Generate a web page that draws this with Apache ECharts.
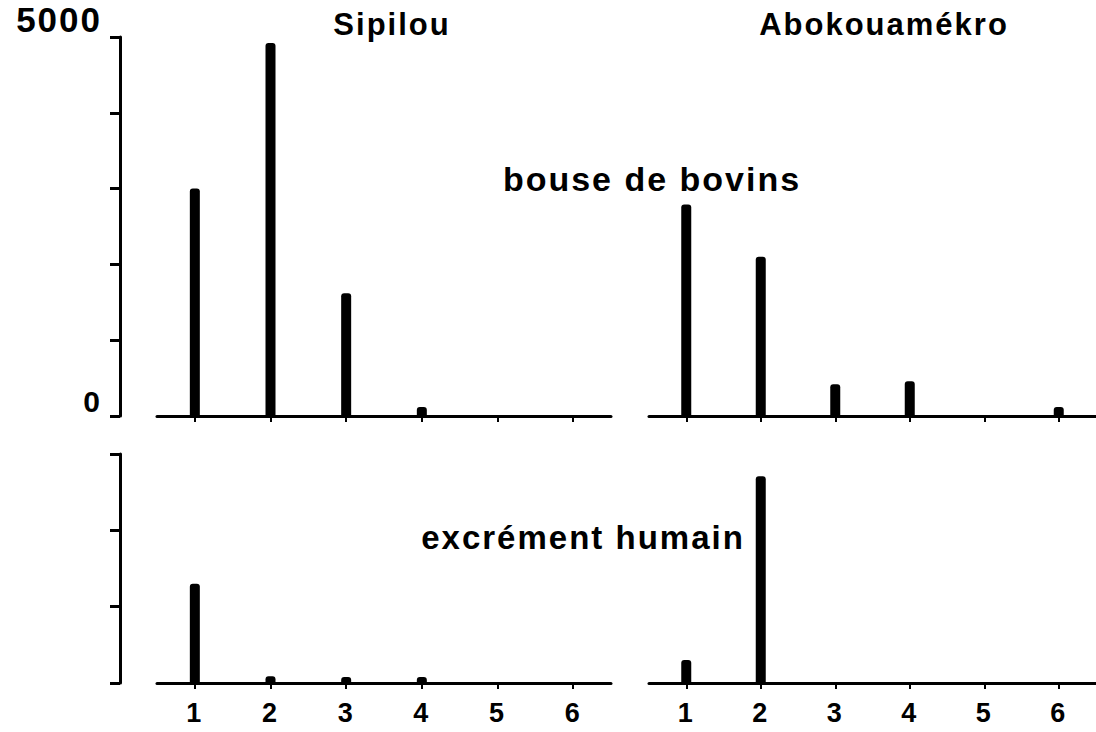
<!DOCTYPE html>
<html>
<head>
<meta charset="utf-8">
<script src="https://cdn.jsdelivr.net/npm/echarts@6/dist/echarts.min.js"></script>
<style>
  html, body { margin: 0; padding: 0; background: #fff; }
  #chart { width: 1096px; height: 732px; }
  #chart text { letter-spacing: 2px; }
</style>
</head>
<body>
<div id="chart"></div>
<script>
// Classes 1..6 on the horizontal axes
const categories = ['1', '2', '3', '4', '5', '6'];

// Counts per class, cattle dung (top row)
const sipilouBouse = [3000, 4920, 1620, 120, 0, 0];
const abokBouse = [2790, 2100, 420, 460, 0, 120];

// Counts per class, human excrement (bottom row)
const sipilouExcrement = [1300, 90, 80, 80, 0, 0];
const abokExcrement = [300, 2710, 0, 0, 0, 0];

// Only these values get a label on the top-left vertical axis
const yLabelValues = [0, 5000];

const FONT = '"Liberation Sans", Arial, sans-serif';
const INK = '#000';

const chart = echarts.init(document.getElementById('chart'), null, { renderer: 'svg' });

const grids = [
  { left: 157, top: 37, width: 454, height: 379 },   // Sipilou, bouse
  { left: 649, top: 37, width: 453, height: 379 },   // Abokouamékro, bouse
  { left: 157, top: 454, width: 454, height: 229 },  // Sipilou, excrément
  { left: 649, top: 454, width: 453, height: 229 }   // Abokouamékro, excrément
];

function xAxis(gridIndex, withLabels) {
  return {
    type: 'category',
    gridIndex,
    data: categories,
    boundaryGap: true,
    axisLine: { show: true, lineStyle: { color: INK, width: 3 } },
    axisTick: { show: true, alignWithLabel: true, length: 6, lineStyle: { color: INK, width: 2 } },
    axisLabel: {
      show: withLabels,
      color: INK,
      fontFamily: FONT,
      fontWeight: 'bold',
      fontSize: 27,
      margin: 16
    },
    splitLine: { show: false }
  };
}

function yAxis(gridIndex, max, shown, labelled) {
  return {
    type: 'value',
    gridIndex,
    min: 0,
    max,
    interval: 1000,
    show: shown,
    offset: 37,
    axisLine: { show: true, lineStyle: { color: INK, width: 3 } },
    axisTick: { show: true, length: 10, lineStyle: { color: INK, width: 3 } },
    axisLabel: {
      show: labelled,
      color: INK,
      fontFamily: FONT,
      fontWeight: 'bold',
      fontSize: 30,
      margin: 18,
      verticalAlign: 'bottom',
      formatter: v => {
        if (!yLabelValues.includes(v)) return '';
        return v === 0 ? '{zero|0}' : '{top|' + v + '}';
      },
      rich: {
        zero: { fontFamily: FONT, fontWeight: 'bold', fontSize: 30, color: INK },
        top: { fontFamily: FONT, fontWeight: 'bold', fontSize: 35, color: INK }
      }
    },
    splitLine: { show: false }
  };
}

function bars(xi, yi, data) {
  return {
    type: 'bar',
    xAxisIndex: xi,
    yAxisIndex: yi,
    data,
    barWidth: 10,
    itemStyle: { color: INK, borderRadius: [3, 3, 0, 0] },
    silent: true
  };
}

function label(text, x, y, size) {
  return {
    type: 'text',
    x, y,
    style: {
      text,
      fill: INK,
      font: 'bold ' + size + 'px ' + FONT,
      textAlign: 'center',
      textVerticalAlign: 'middle'
    }
  };
}

chart.setOption({
  animation: false,
  backgroundColor: '#fff',
  grid: grids,
  xAxis: [xAxis(0, false), xAxis(1, false), xAxis(2, true), xAxis(3, true)],
  yAxis: [
    yAxis(0, 5000, true, true),
    yAxis(1, 5000, false, false),
    yAxis(2, 3000, true, false),
    yAxis(3, 3000, false, false)
  ],
  series: [
    bars(0, 0, sipilouBouse),
    bars(1, 1, abokBouse),
    bars(2, 2, sipilouExcrement),
    bars(3, 3, abokExcrement)
  ],
  graphic: [
    label('Sipilou', 392, 24, 31),
    label('Abokouamékro', 884, 24, 31),
    label('bouse de bovins', 652, 179, 34),
    label('excrément humain', 583, 537, 33)
  ]
});
</script>
</body>
</html>
